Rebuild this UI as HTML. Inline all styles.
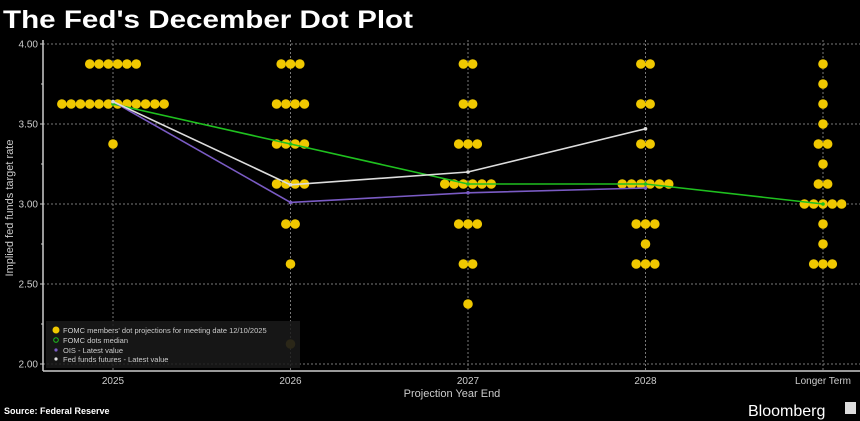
<!DOCTYPE html>
<html><head><meta charset="utf-8"><style>
html,body{margin:0;padding:0;background:#000;width:860px;height:421px;overflow:hidden}
svg{display:block}
text{font-family:"Liberation Sans",sans-serif}
</style></head><body>
<svg id="chart" width="860" height="421" viewBox="0 0 860 421" xmlns="http://www.w3.org/2000/svg">
<rect x="0" y="0" width="860" height="421" fill="#000"/>
<text x="3" y="28" fill="#fff" font-size="25" font-weight="bold" textLength="410" lengthAdjust="spacingAndGlyphs">The Fed's December Dot Plot</text>
<g id="grid"></g><g id="axes"></g><g id="dots"></g><g id="lines"></g>
<g>
<rect x="46" y="321" width="254" height="47" fill="#1a1a1a" opacity="0.85"/>
<circle cx="56" cy="330" r="3.5" fill="#f0c800"/>
<text x="63" y="333" fill="#ccc" font-size="7.5">FOMC members' dot projections for meeting date 12/10/2025</text>
<circle cx="56" cy="340" r="2.3" fill="none" stroke="#1fc01f" stroke-width="1"/>
<text x="63" y="343" fill="#ccc" font-size="7.5">FOMC dots median</text>
<circle cx="56" cy="350" r="1.6" fill="#7a5bc4"/>
<text x="63" y="353" fill="#ccc" font-size="7.5">OIS - Latest value</text>
<circle cx="56" cy="359" r="1.6" fill="#ddd"/>
<text x="63" y="362" fill="#ccc" font-size="7.5">Fed funds futures - Latest value</text>
</g>
<text transform="translate(13,208) rotate(-90)" text-anchor="middle" fill="#ccc" font-size="11">Implied fed funds target rate</text>
<text x="452" y="397" text-anchor="middle" fill="#ccc" font-size="11">Projection Year End</text>
<text x="4" y="414" fill="#fff" font-size="9" font-weight="bold" font-family="Liberation Mono, monospace">Source: Federal Reserve</text>
<text x="748" y="416" fill="#fff" font-size="16">Bloomberg</text>
<rect x="845" y="402" width="11" height="12" fill="#ddd"/>
</svg>
<script>
const categories=["2025","2026","2027","2028","Longer Term"];
const dotRates=[
 [3.875,3.625,3.375],
 [3.875,3.625,3.375,3.125,2.875,2.625,2.125],
 [3.875,3.625,3.375,3.125,2.875,2.625,2.375],
 [3.875,3.625,3.375,3.125,2.875,2.75,2.625],
 [3.875,3.75,3.625,3.5,3.375,3.25,3.125,3.0,2.875,2.75,2.625]
];
const dotCounts=[
 [6,12,1],
 [3,4,4,4,2,1,1],
 [2,2,3,6,3,2,1],
 [2,2,2,6,3,1,3],
 [1,1,1,1,2,1,2,5,1,1,3]
];
const medianVals=[3.625,3.375,3.125,3.125,3.0];
const oisVals=[3.64,3.01,3.07,3.10];
const futuresVals=[3.64,3.12,3.20,3.47];
const yTicks=[2.0,2.5,3.0,3.5,4.0];
const yTickLabels=["2.00","2.50","3.00","3.50","4.00"];

const NS="http://www.w3.org/2000/svg";
const X0=43,X1=860,Y0=371;
function xPos(i){return 113+i*177.5;}
function yPos(v){return 364-(v-2.0)*160;}
function mk(tag,attrs,parent){const e=document.createElementNS(NS,tag);for(const k in attrs)e.setAttribute(k,attrs[k]);document.getElementById(parent).appendChild(e);return e;}

yTicks.forEach((t,i)=>{
 const g=mk('line',{x1:X0,x2:X1,y1:yPos(t),y2:yPos(t),stroke:'#777','stroke-width':1,'stroke-dasharray':'2,2'},'grid');
 
 
 const tk=mk('line',{x1:X0-3,x2:X0,y1:yPos(t),y2:yPos(t),stroke:'#ccc'},'axes');
 
 
 const lb=mk('text',{x:X0-5,y:yPos(t)+3.5,'text-anchor':'end',fill:'#ccc','font-size':10},'axes');
 lb.textContent=yTickLabels[i];
 
 
 if(i<yTicks.length-1){const m=mk('line',{x1:X0-2,x2:X0,y1:yPos(t+0.25),y2:yPos(t+0.25),stroke:'#ccc'},'axes');
 
 }
});
categories.forEach((c,i)=>{
 const g=mk('line',{x1:xPos(i),x2:xPos(i),y1:40,y2:Y0,stroke:'#777','stroke-width':1,'stroke-dasharray':'2,2'},'grid');
 
 
 const lb=mk('text',{x:xPos(i),y:384,'text-anchor':'middle',fill:'#ccc','font-size':10},'axes');
 lb.textContent=c;
 
 
});
const ya=mk('line',{x1:X0,x2:X0,y1:40,y2:Y0,stroke:'#ccc','stroke-width':1.5},'axes');


const xa=mk('line',{x1:X0,x2:X1,y1:Y0,y2:Y0,stroke:'#ccc','stroke-width':1.5},'axes');



const SP=9.3;
dotRates.forEach((rates,i)=>{
 rates.forEach((r,j)=>{
  const n=dotCounts[i][j];
  for(let k=0;k<n;k++){
   const cx=xPos(i)+(k-(n-1)/2)*SP;
   const d=mk('circle',{cx:cx,cy:yPos(r),r:4.8,fill:(r===2.125?'#8a7410':'#f0c800')},'dots');
   
   
  }
 });
});
function line(vals,color,name){
 const pts=vals.map((v,i)=>xPos(i)+','+yPos(v)).join(' ');
 const p=mk('polyline',{points:pts,fill:'none',stroke:color,'stroke-width':1.6},'lines');
 
 
 vals.forEach((v,i)=>{const c=mk('circle',{cx:xPos(i),cy:yPos(v),r:1.8,fill:color},'lines');
 
 });
}
line(medianVals,'#1fc01f','median-line');
line(oisVals,'#7a5bc4','ois-line');
line(futuresVals,'#dddddd','futures-line');
</script>
</body></html>
